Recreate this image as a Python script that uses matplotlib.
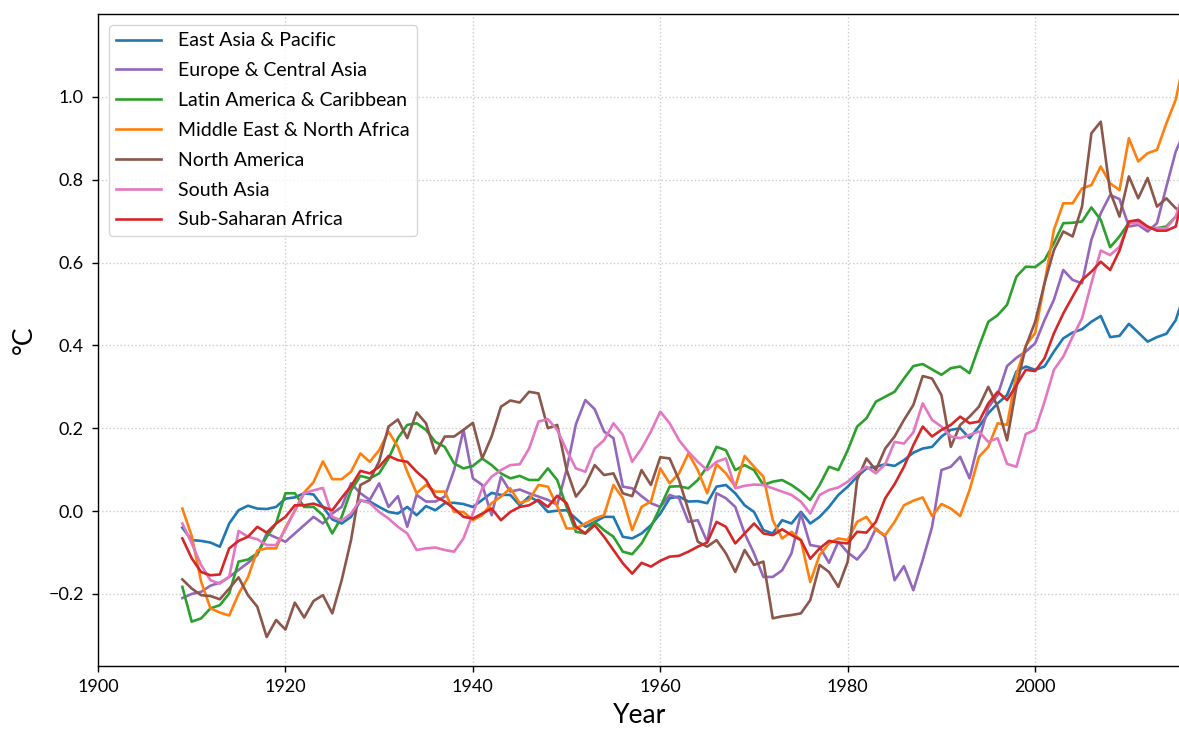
import matplotlib
matplotlib.use("Agg")
import matplotlib.pyplot as plt
import numpy as np

plt.rcParams['font.family'] = ['Lato', 'DejaVu Sans']

years = np.arange(1909, 2017)

east_asia = [
    -0.040, -0.070, -0.072, -0.076, -0.086, -0.030, 0.002, 0.013, 0.006, 0.005,
    0.010, 0.030, 0.033, 0.043, 0.040, 0.010, -0.020, -0.030, -0.014, 0.025,
    0.023, 0.010, -0.002, -0.006, 0.010, -0.010, 0.012, 0.002, 0.019, 0.020,
    0.017, 0.010, 0.027, 0.044, 0.039, 0.039, 0.014, 0.035, 0.023, -0.002,
    0.001, 0.002, -0.018, -0.038, -0.026, -0.014, -0.014, -0.062, -0.066, -0.054,
    -0.034, -0.006, 0.031, 0.035, 0.023, 0.024, 0.019, 0.059, 0.063, 0.043,
    0.014, -0.002, -0.046, -0.054, -0.022, -0.030, -0.002, -0.030, -0.014, 0.010,
    0.039, 0.059, 0.083, 0.103, 0.107, 0.113, 0.109, 0.123, 0.141, 0.151,
    0.155, 0.180, 0.196, 0.200, 0.176, 0.204, 0.236, 0.260, 0.280, 0.337,
    0.349, 0.341, 0.349, 0.385, 0.417, 0.431, 0.439, 0.457, 0.471, 0.420,
    0.423, 0.452, 0.431, 0.409, 0.420, 0.428, 0.461, 0.530,
]

europe = [
    -0.210, -0.200, -0.195, -0.180, -0.173, -0.159, -0.142, -0.125, -0.106, -0.054,
    -0.064, -0.074, -0.054, -0.034, -0.014, -0.030, -0.006, 0.010, 0.067, 0.043,
    0.027, 0.067, 0.010, 0.036, -0.038, 0.039, 0.023, 0.023, 0.035, 0.099,
    0.196, 0.079, 0.063, -0.010, 0.083, 0.047, 0.052, 0.043, 0.035, 0.027,
    0.015, 0.100, 0.210, 0.268, 0.246, 0.192, 0.176, 0.059, 0.055, 0.036,
    0.019, 0.010, 0.039, 0.031, -0.026, -0.022, -0.074, 0.043, 0.031, 0.010,
    -0.054, -0.102, -0.159, -0.159, -0.143, -0.102, -0.006, -0.082, -0.086, -0.125,
    -0.074, -0.100, -0.117, -0.090, -0.042, -0.062, -0.167, -0.133, -0.191, -0.118,
    -0.038, 0.099, 0.107, 0.131, 0.079, 0.171, 0.250, 0.280, 0.350, 0.370,
    0.385, 0.405, 0.461, 0.510, 0.582, 0.558, 0.550, 0.655, 0.719, 0.763,
    0.753, 0.687, 0.691, 0.675, 0.695, 0.783, 0.868, 0.920,
]

latin_america = [
    -0.183, -0.267, -0.259, -0.235, -0.227, -0.199, -0.122, -0.117, -0.102, -0.062,
    -0.030, 0.043, 0.043, 0.010, 0.010, -0.010, -0.054, -0.014, 0.050, 0.085,
    0.079, 0.091, 0.127, 0.176, 0.208, 0.212, 0.196, 0.167, 0.155, 0.115,
    0.103, 0.109, 0.127, 0.111, 0.091, 0.079, 0.085, 0.075, 0.075, 0.103,
    0.075, 0.010, -0.050, -0.054, -0.026, -0.046, -0.062, -0.098, -0.104, -0.078,
    -0.038, 0.010, 0.059, 0.060, 0.055, 0.075, 0.107, 0.155, 0.147, 0.099,
    0.111, 0.099, 0.063, 0.071, 0.075, 0.063, 0.047, 0.027, 0.063, 0.107,
    0.099, 0.147, 0.204, 0.224, 0.264, 0.276, 0.288, 0.320, 0.350, 0.355,
    0.342, 0.329, 0.345, 0.349, 0.333, 0.397, 0.457, 0.473, 0.498, 0.566,
    0.590, 0.589, 0.606, 0.647, 0.695, 0.696, 0.699, 0.733, 0.703, 0.637,
    0.663, 0.696, 0.699, 0.683, 0.683, 0.687, 0.711, 0.740,
]

middle_east = [
    0.006, -0.060, -0.170, -0.235, -0.245, -0.252, -0.200, -0.160, -0.095, -0.090,
    -0.090, -0.040, 0.000, 0.045, 0.070, 0.120, 0.077, 0.077, 0.095, 0.139,
    0.119, 0.147, 0.192, 0.155, 0.095, 0.043, 0.063, 0.047, 0.047, -0.002,
    -0.002, -0.022, -0.010, 0.019, 0.035, 0.055, 0.019, 0.027, 0.063, 0.059,
    0.012, -0.042, -0.042, -0.030, -0.018, -0.010, 0.063, 0.031, -0.046, 0.010,
    0.023, 0.103, 0.067, 0.091, 0.139, 0.099, 0.043, 0.113, 0.091, 0.059,
    0.133, 0.107, 0.083, -0.022, -0.066, -0.050, -0.070, -0.171, -0.106, -0.078,
    -0.066, -0.070, -0.026, -0.014, -0.046, -0.058, -0.026, 0.014, 0.025, 0.033,
    -0.012, 0.017, 0.006, -0.012, 0.051, 0.131, 0.155, 0.212, 0.208, 0.330,
    0.400, 0.430, 0.550, 0.679, 0.743, 0.743, 0.779, 0.787, 0.832, 0.791,
    0.775, 0.900, 0.844, 0.864, 0.872, 0.936, 0.993, 1.100,
]

north_america = [
    -0.165, -0.187, -0.203, -0.205, -0.213, -0.187, -0.160, -0.203, -0.231, -0.304,
    -0.263, -0.286, -0.221, -0.257, -0.217, -0.203, -0.247, -0.167, -0.070, 0.063,
    0.075, 0.120, 0.204, 0.221, 0.176, 0.238, 0.212, 0.139, 0.180, 0.180,
    0.196, 0.213, 0.127, 0.180, 0.252, 0.267, 0.262, 0.288, 0.284, 0.200,
    0.208, 0.100, 0.035, 0.063, 0.111, 0.087, 0.091, 0.043, 0.036, 0.099,
    0.063, 0.130, 0.127, 0.075, 0.002, -0.074, -0.086, -0.070, -0.102, -0.147,
    -0.094, -0.130, -0.122, -0.259, -0.254, -0.251, -0.247, -0.215, -0.130, -0.147,
    -0.183, -0.122, 0.075, 0.127, 0.099, 0.151, 0.180, 0.220, 0.256, 0.326,
    0.320, 0.280, 0.155, 0.208, 0.228, 0.252, 0.300, 0.252, 0.171, 0.300,
    0.397, 0.457, 0.550, 0.630, 0.675, 0.663, 0.735, 0.912, 0.940, 0.771,
    0.711, 0.808, 0.755, 0.804, 0.735, 0.755, 0.731, 0.720,
]

south_asia = [
    -0.030, -0.078, -0.130, -0.167, -0.175, -0.159, -0.048, -0.062, -0.068, -0.082,
    -0.082, -0.044, 0.002, 0.043, 0.050, 0.056, -0.014, -0.023, -0.006, 0.027,
    0.019, -0.002, -0.018, -0.038, -0.054, -0.094, -0.090, -0.088, -0.094, -0.098,
    -0.066, -0.006, 0.055, 0.083, 0.099, 0.111, 0.113, 0.151, 0.216, 0.222,
    0.196, 0.147, 0.103, 0.095, 0.151, 0.171, 0.212, 0.184, 0.119, 0.151,
    0.192, 0.240, 0.212, 0.171, 0.143, 0.119, 0.099, 0.119, 0.127, 0.055,
    0.061, 0.064, 0.063, 0.055, 0.047, 0.039, 0.023, -0.006, 0.039, 0.051,
    0.057, 0.071, 0.091, 0.107, 0.091, 0.113, 0.167, 0.163, 0.190, 0.260,
    0.220, 0.204, 0.180, 0.176, 0.184, 0.192, 0.167, 0.176, 0.114, 0.107,
    0.186, 0.196, 0.264, 0.341, 0.373, 0.421, 0.465, 0.550, 0.629, 0.618,
    0.638, 0.695, 0.695, 0.683, 0.683, 0.683, 0.711, 0.780,
]

sub_saharan = [
    -0.066, -0.114, -0.147, -0.155, -0.153, -0.090, -0.072, -0.062, -0.038, -0.052,
    -0.030, -0.014, 0.014, 0.014, 0.018, 0.010, 0.002, 0.032, 0.060, 0.097,
    0.091, 0.107, 0.133, 0.123, 0.119, 0.095, 0.075, 0.035, 0.023, 0.006,
    -0.014, -0.018, -0.006, 0.006, -0.022, -0.002, 0.010, 0.014, 0.027, 0.010,
    0.037, 0.019, -0.038, -0.054, -0.034, -0.062, -0.094, -0.126, -0.151, -0.125,
    -0.134, -0.120, -0.110, -0.108, -0.098, -0.086, -0.076, -0.026, -0.038, -0.078,
    -0.054, -0.030, -0.054, -0.058, -0.044, -0.058, -0.070, -0.115, -0.090, -0.072,
    -0.076, -0.078, -0.050, -0.052, -0.026, 0.031, 0.065, 0.107, 0.159, 0.204,
    0.180, 0.196, 0.208, 0.228, 0.212, 0.216, 0.260, 0.288, 0.268, 0.304,
    0.341, 0.338, 0.369, 0.429, 0.477, 0.518, 0.558, 0.578, 0.602, 0.582,
    0.629, 0.699, 0.703, 0.687, 0.677, 0.677, 0.687, 0.780,
]

series = [
    ("East Asia & Pacific", east_asia, "tab:blue"),
    ("Europe & Central Asia", europe, "tab:purple"),
    ("Latin America & Caribbean", latin_america, "tab:green"),
    ("Middle East & North Africa", middle_east, "tab:orange"),
    ("North America", north_america, "tab:brown"),
    ("South Asia", south_asia, "tab:pink"),
    ("Sub-Saharan Africa", sub_saharan, "tab:red"),
]

fig = plt.figure(figsize=(11.79, 7.29), dpi=100)
ax = fig.add_axes([98 / 1179, 63 / 729, 1 - 98 / 1179 + 0.002, 652 / 729])

for name, vals, col in series:
    ax.plot(years, vals, color=col, linewidth=1.9, label=name)

ax.set_xlim(1900, 2015.6)
ax.set_ylim(-0.374, 1.2)
ax.set_xticks([1900, 1920, 1940, 1960, 1980, 2000])
ax.set_yticks([-0.2, 0.0, 0.2, 0.4, 0.6, 0.8, 1.0])
ax.set_yticklabels(["\u22120.2", "0.0", "0.2", "0.4", "0.6", "0.8", "1.0"])
ax.tick_params(labelsize=13, length=4.3, width=1.0)
ax.tick_params(axis='y', pad=6)
ax.tick_params(axis='x', pad=5)
ax.grid(True, linestyle=':', color='#cccccc', linewidth=1)
for s in ax.spines.values():
    s.set_linewidth(1.0)
ax.spines['right'].set_visible(False)

ax.set_xlabel("Year", fontsize=19, labelpad=6)
ax.set_ylabel("°C", fontsize=19, labelpad=8)

ax.legend(loc="upper left", fontsize=14, borderaxespad=0.55,
          handlelength=2.3, handletextpad=0.85, labelspacing=0.66)

fig.savefig("out.png", dpi=100)
